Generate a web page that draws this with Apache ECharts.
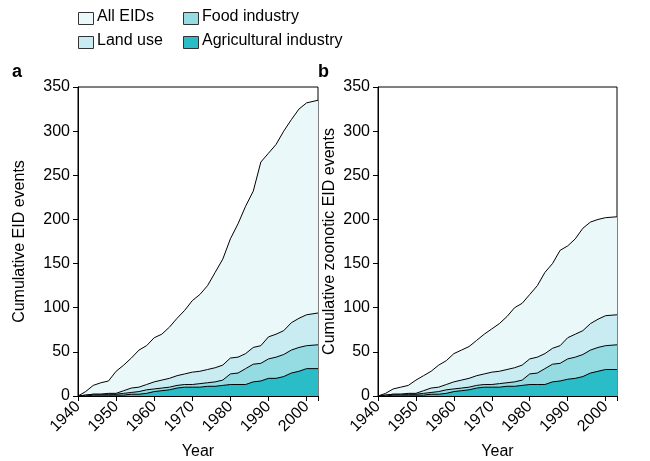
<!DOCTYPE html><html><head><meta charset="utf-8"><script src="https://cdn.jsdelivr.net/npm/echarts@6/dist/echarts.min.js"></script></head><body style="margin:0"><div id="c" style="width:650px;height:461px"></div><script>
const years=[1940,1942,1944,1946,1948,1950,1952,1954,1956,1958,1960,1962,1964,1966,1968,1970,1972,1974,1976,1978,1980,1982,1984,1986,1988,1990,1992,1994,1996,1998,2000,2003];
const allA=[0,5,12,15,17,28,35,43,52,57,66,70,78,88,97,108,115,125,140,155,178,195,215,232,265,275,285,300,313,325,332,335];
const landA=[0,1,2,2,3,3,6,9,10,13,16,18,20,23,25,27,28,30,32,35,43,44,48,55,57,67,70,74,83,88,92,94];
const foodA=[0,1,2,2,2,2,3,4,5,7,8,9,10,12,13,13,14,15,16,18,25,26,31,36,37,42,44,47,52,55,57,58];
const agriA=[0,0,1,1,1,1,1,2,2,3,5,6,7,9,10,10,10,11,11,12,13,13,13,16,17,20,20,22,26,28,31,31];
const allB=[0,3,8,10,12,18,23,28,35,40,48,52,56,63,70,76,82,90,100,105,115,125,140,150,165,170,178,190,197,200,202,203];
const landB=[0,1,2,2,3,3,6,9,10,13,16,18,20,23,25,27,28,30,32,35,42,44,48,54,57,66,70,74,82,87,91,92];
const foodB=[0,1,2,2,2,2,3,4,5,7,8,9,10,12,13,13,14,15,16,18,25,26,31,36,37,42,44,47,52,55,57,58];
const agriB=[0,0,1,1,1,1,1,2,2,3,5,6,7,9,10,10,10,11,11,12,13,13,13,16,17,19,20,22,26,28,30,30];
const names=['All EIDs','Land use','Food industry','Agricultural industry'];
const cols=['#eaf8f9','#c8ecf2','#94dbe2','#2bbdc7'];
const F='Liberation Sans, Arial, sans-serif';
function ser(arrs,gi){return arrs.map((a,i)=>({type:'line',name:names[i],xAxisIndex:gi,yAxisIndex:gi,data:years.map((y,j)=>[y,a[j]]),symbol:'none',lineStyle:{color:'#000',width:1},areaStyle:{color:cols[i],opacity:1,origin:'start'},z:2+i}));}
function xa(gi){return {type:'value',gridIndex:gi,min:1940,max:2003,interval:10,name:'Year',nameLocation:'middle',nameGap:48,nameTextStyle:{fontSize:16,color:'#000',fontFamily:F},axisLine:{lineStyle:{color:'#000'}},axisTick:{lineStyle:{color:'#000'}},splitLine:{show:false},axisLabel:{rotate:45,fontSize:16,color:'#000',fontFamily:F,formatter:v=>v%10===0&&v<=2000?v:''}};}
function ya(gi,n,gap){return {type:'value',gridIndex:gi,min:0,max:350,interval:50,name:n,nameLocation:'middle',nameGap:gap,nameTextStyle:{fontSize:16,color:'#000',fontFamily:F},axisLine:{show:true,lineStyle:{color:'#000'}},axisTick:{show:true,lineStyle:{color:'#000'}},splitLine:{show:false},axisLabel:{fontSize:16,color:'#000',fontFamily:F}};}
const g=[];
const leg=[[78,12,0],[183,12,2],[78,36,1],[183,36,3]];
leg.forEach(([x,y,i])=>{g.push({type:'rect',left:x,top:y,shape:{width:15,height:12},style:{fill:cols[i],stroke:'#333',lineWidth:1}});g.push({type:'text',left:x+19,top:y-3,style:{text:names[i],fontSize:16,fill:'#000',fontFamily:F}});});
g.push({type:'text',left:12,top:63,style:{text:'a',fontSize:18,fontWeight:'bold',fill:'#000',fontFamily:F}});
g.push({type:'text',left:318,top:63,style:{text:'b',fontSize:18,fontWeight:'bold',fill:'#000',fontFamily:F}});
const ch=echarts.init(document.getElementById('c'));
ch.setOption({animation:false,graphic:g,
grid:[{left:78,right:332,top:87,bottom:65,show:true,borderColor:'#000',borderWidth:1,outerBoundsMode:'none'},{left:378,right:33,top:87,bottom:65,show:true,borderColor:'#000',borderWidth:1,outerBoundsMode:'none'}],
xAxis:[xa(0),xa(1)],yAxis:[ya(0,'Cumulative EID events',50),ya(1,'Cumulative zoonotic EID events',40)],
series:[...ser([allA,landA,foodA,agriA],0),...ser([allB,landB,foodB,agriB],1)]});
</script></body></html>
